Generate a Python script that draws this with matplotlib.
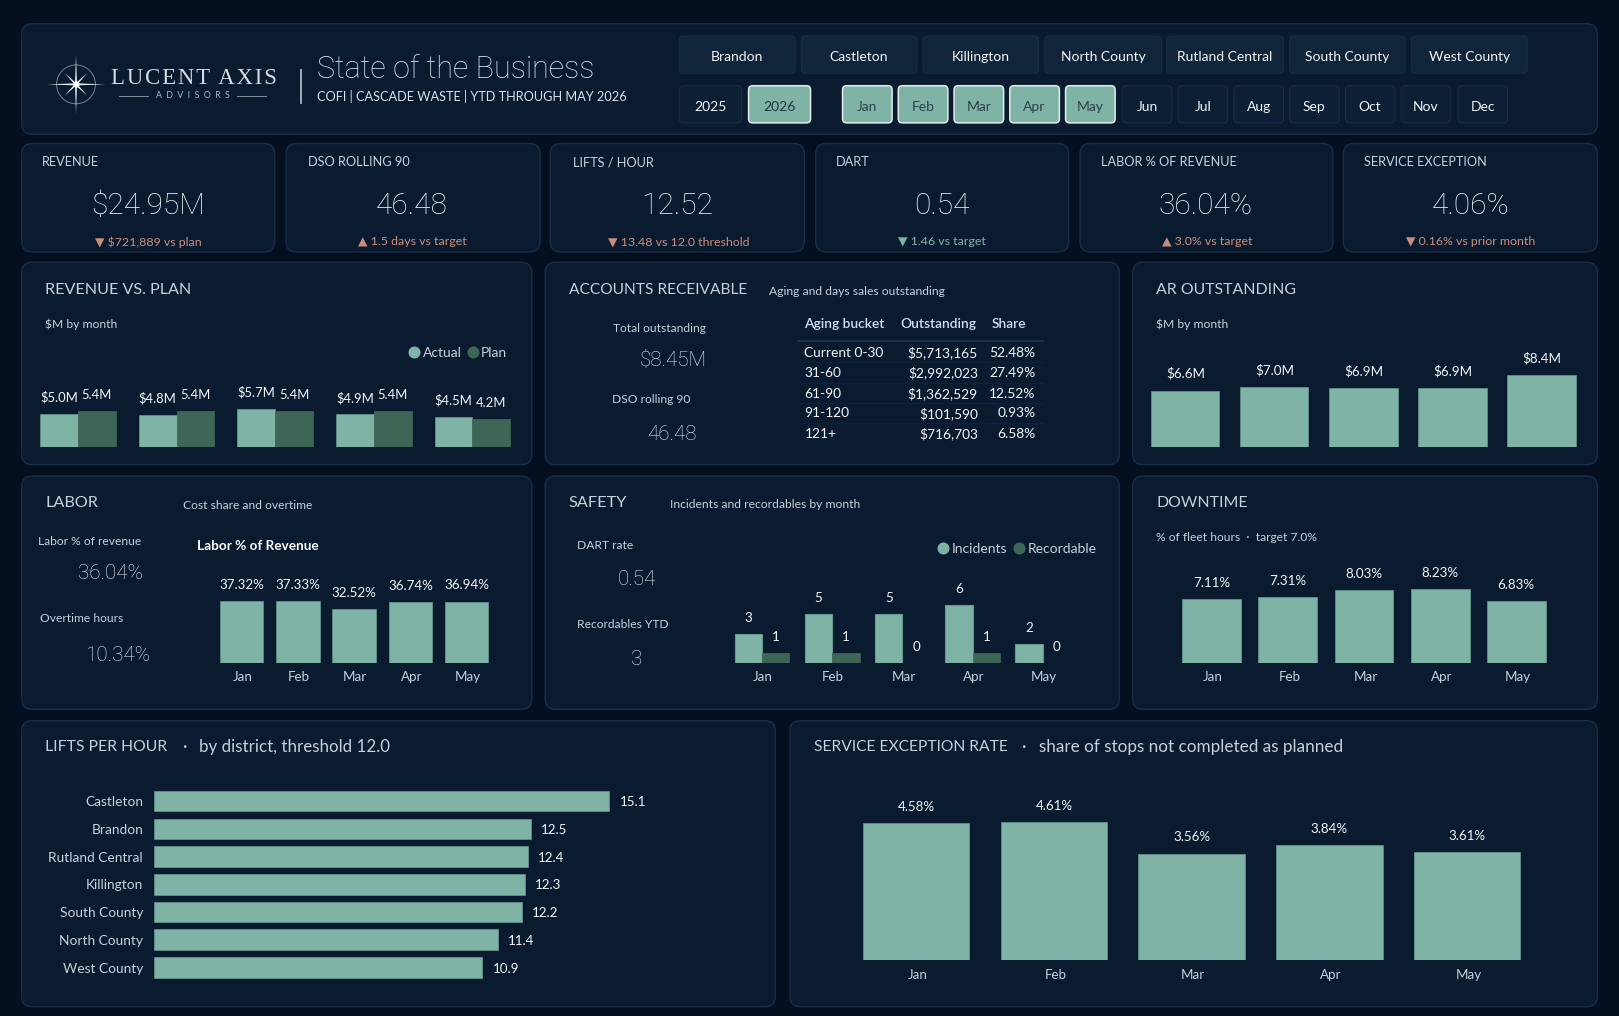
import matplotlib
matplotlib.use("Agg")
import matplotlib.pyplot as plt
from matplotlib.patches import FancyBboxPatch
from matplotlib.transforms import ScaledTranslation

# ---------- data ----------
MONTHS5 = ["Jan", "Feb", "Mar", "Apr", "May"]
ALL_MONTHS = ["Jan", "Feb", "Mar", "Apr", "May", "Jun", "Jul", "Aug", "Sep", "Oct", "Nov", "Dec"]
DISTRICT_BUTTONS = ["Brandon", "Castleton", "Killington", "North County", "Rutland Central", "South County", "West County"]

KPI_LABELS = ["REVENUE", "DSO ROLLING 90", "LIFTS / HOUR", "DART", "LABOR % OF REVENUE", "SERVICE EXCEPTION"]
KPI_VALUES = ["$24.95M", "46.48", "12.52", "0.54", "36.04%", "4.06%"]
KPI_NOTES = ["▼ $721,889 vs plan", "▲ 1.5 days vs target", "▼ 13.48 vs 12.0 threshold",
             "▼ 1.46 vs target", "▲ 3.0% vs target", "▼ 0.16% vs prior month"]

REV_ACTUAL = [5.0, 4.8, 5.7, 4.9, 4.5]
REV_PLAN = [5.4, 5.4, 5.4, 5.4, 4.2]
AR_MONTHLY = [6.6, 7.0, 6.9, 6.9, 8.4]
LABOR_PCT = [37.32, 37.33, 32.52, 36.74, 36.94]
INCIDENTS = [3, 5, 5, 6, 2]
RECORDABLE = [1, 1, 0, 1, 0]
DOWNTIME = [7.11, 7.31, 8.03, 8.23, 6.83]
DISTRICTS = ["Castleton", "Brandon", "Rutland Central", "Killington", "South County", "North County", "West County"]
LIFTS = [15.1, 12.5, 12.4, 12.3, 12.2, 11.4, 10.9]
SERVICE_EXC = [4.58, 4.61, 3.56, 3.84, 3.61]

AGING_BUCKETS = ["Current 0-30", "31-60", "61-90", "91-120", "121+"]
AGING_AMOUNTS = ["$5,713,165", "$2,992,023", "$1,362,529", "$101,590", "$716,703"]
AGING_SHARES = ["52.48%", "27.49%", "12.52%", "0.93%", "6.58%"]

# ---------- style ----------
BG = "#040F20"
PANEL = "#0A1B30"
EDGE = "#1A2D45"
BTN = "#10243A"
BTN_DARK = "#0C1F35"
BAR = "#7FB3A6"
BAR_EDGE = "#649A8C"
BAR2 = "#3D6656"
TXT = "#D8E0E8"
TXT2 = "#C6D0DA"
VAL2 = "#E2E8EE"
WHITE = "#F2F5F7"
SALMON = "#C98D7C"
FAM = ["Lato", "DejaVu Sans"]
LIGHT = ["Roboto", "DejaVu Sans"]
W, H = 1568.0, 984.0
S = 1619.0 / 1568.0


def P(px):
    return px * S * 0.72


fig = plt.figure(figsize=(16.19, 10.16), dpi=100, facecolor=BG)
ov = fig.add_axes([0, 0, 1, 1], zorder=0)
ov.set_xlim(0, W)
ov.set_ylim(H, 0)
ov.axis("off")


def panel(x0, y0, x1, y1, r=10, fc=PANEL, ec=EDGE, lw=1.0):
    ov.add_patch(FancyBboxPatch((x0, y0), x1 - x0, y1 - y0, boxstyle=f"round,pad=0,rounding_size={r}",
                                fc=fc, ec=ec, lw=lw))


def T(x, y, s, px=13, c=TXT2, ha="left", w="normal", fam=None):
    return ov.text(x, y + 0.07 * px, s, fontsize=P(px), color=c, ha=ha, va="center",
                   fontweight=w, family=fam or FAM)


def BIG(x, y, s, px, c=WHITE, ha="center"):
    return T(x, y, s, px=px, c=c, ha=ha, w="light", fam=LIGHT)


def inset(x0, x1, ytop, ybot, xlim, ylim):
    ax = fig.add_axes([x0 / W, 1 - ybot / H, (x1 - x0) / W, (ybot - ytop) / H], zorder=2)
    ax.set_facecolor("none")
    ax.set_xlim(*xlim)
    ax.set_ylim(*ylim)
    for sp in ax.spines.values():
        sp.set_visible(False)
    ax.tick_params(length=0)
    ax.set_yticks([])
    ax.set_xticks([])
    return ax


def month_ticks(ax, pad, dx=1.0):
    ax.set_xticks(range(5))
    ax.set_xticklabels(MONTHS5, fontsize=P(13), color=TXT2, family=FAM)
    ax.tick_params(axis="x", pad=pad, length=0)
    shift = ScaledTranslation(dx * S / 100.0, 0, fig.dpi_scale_trans)
    for t in ax.get_xticklabels():
        t.set_transform(t.get_transform() + shift)


def lab(ax, x, y, s, off, px=13, c=WHITE):
    ax.annotate(s, (x, y), xytext=(0, off * S * 0.72), textcoords="offset points", ha="center", va="center",
                fontsize=P(px), color=c, family=FAM, annotation_clip=False)


def spike(cx, cy, dx, dy, half, color="#EEF1F4"):
    nx, ny = -dy, dx
    n = (nx * nx + ny * ny) ** 0.5
    nx, ny = nx / n * half, ny / n * half
    ov.fill([cx - dx, cx + nx, cx + dx, cx - nx], [cy - dy, cy + ny, cy + dy, cy - ny], color=color, lw=0)


# ---------- panels ----------
panel(21, 23, 1547, 130)
KPI_X = [(21, 266), (277, 523), (533, 779), (790, 1035), (1046, 1291), (1301, 1547)]
for a, b in KPI_X:
    panel(a, 139, b, 244)
for a, b in [(21, 515), (528, 1084), (1097, 1547)]:
    panel(a, 254, b, 450)
    panel(a, 461, b, 687)
panel(21, 698, 751, 975)
panel(765, 698, 1547, 975)

# ---------- logo ----------
cx, cy = 73.6, 81.7
ov.add_patch(plt.Circle((cx, cy), 18.8, fc="none", ec="#77828F", lw=0.7))
ov.fill([cx - 28.5, cx, cx + 28.5, cx], [cy, cy - 1.0, cy, cy + 1.0], color="#E8ECEF", lw=0)
ov.fill([cx, cx + 1.0, cx, cx - 1.0], [cy - 28.5, cy, cy + 28.5, cy], color="#E8ECEF", lw=0)
for dx, dy in [(11, 11), (11, -11)]:
    spike(cx, cy, dx, dy, 1.0)
ov.scatter([cx], [cy], s=20, color="white", zorder=3, linewidths=0)
T(107.5, 74.5, "L\u200aU\u200aC\u200aE\u200aN\u200aT\u200a\u200a A\u200aX\u200aI\u200aS", px=22, c="#D5DBE1",
  fam=["Liberation Serif", "DejaVu Sans"])
T(187, 92, "A  D  V  I  S  O  R  S", px=8.5, c="#AEB7C0", ha="center")
ov.plot([115.5, 143.5], [92.5, 92.5], color="#7F8B98", lw=0.7)
ov.plot([229.5, 257.5], [92.5, 92.5], color="#7F8B98", lw=0.7)
ov.plot([292, 292], [68, 100], color="#AEB8C2", lw=1.3)

BIG(307, 65, "State of the Business", 29.6, c=TXT, ha="left")
T(307, 92.5, "COFI | CASCADE WASTE | YTD THROUGH MAY 2026", px=12.3, c=TXT)

# ---------- slicers ----------
DIST_X = [(658, 770), (776, 888), (894, 1006), (1012, 1125), (1130, 1243), (1249, 1361), (1367, 1479)]
for (a, b), s in zip(DIST_X, DISTRICT_BUTTONS):
    panel(a, 35, b, 71, r=4, fc=BTN, ec="#182C43", lw=0.8)
    T((a + b) / 2, 54, s, px=13.5, c=WHITE, ha="center")
for (a, b), s, on in [((658, 718), "2025", False), ((725, 785), "2026", True)]:
    panel(a, 83, b, 119, r=4, fc=BAR if on else BTN_DARK, ec="#E4ECEA" if on else "#182C43", lw=1.1 if on else 0.8)
    T((a + b) / 2, 102.5, s, px=13.5, c="#20323F" if on else WHITE, ha="center")
MONTH_X = [(816, 864), (870, 918), (924, 972), (978, 1026), (1032, 1080), (1087, 1135), (1141, 1189),
           (1195, 1243), (1249, 1297), (1303, 1351), (1357, 1405), (1412, 1460)]
for i, ((a, b), s) in enumerate(zip(MONTH_X, ALL_MONTHS)):
    on = i < 5
    panel(a, 83, b, 119, r=4, fc=BAR if on else BTN_DARK, ec="#E4ECEA" if on else "#182C43", lw=1.1 if on else 0.8)
    T((a + b) / 2, 102.5, s, px=13.5, c="#2B4048" if on else WHITE, ha="center")

# ---------- KPI cards ----------
KPI_LX = [41, 298, 555, 810, 1066, 1321]
KPI_CX = [144, 399, 656, 912, 1168, 1424]
KPI_NX = [144, 399, 657, 912, 1169, 1424]
for i in range(6):
    T(KPI_LX[i], 156.5, KPI_LABELS[i], px=12.4, c=TXT2)
    BIG(KPI_CX[i], 197, KPI_VALUES[i], 29)
    T(KPI_NX[i], 233.5, KPI_NOTES[i], px=12, c=BAR if i == 3 else SALMON, ha="center")

# ---------- revenue vs plan ----------
T(44, 279.5, "REVENUE VS. PLAN", px=15.6, c=TXT2)
T(44, 313.5, "$M by month", px=11.7)
ov.scatter([401], [341], s=75, color=BAR, linewidths=0)
T(410, 340.5, "Actual", px=13.5)
ov.scatter([458], [341], s=75, color=BAR2, linewidths=0)
T(466, 340.5, "Plan", px=13.5)
ax = inset(27.75, 505.25, 368.5, 433, (-0.5, 4.5), (0, 10))
bw = 36.6 / 95.5
ax.bar([i - bw / 2 for i in range(5)], REV_ACTUAL, bw, color=BAR, edgecolor=BAR_EDGE, lw=0.5)
ax.bar([i + bw / 2 for i in range(5)], REV_PLAN, bw, color=BAR2, edgecolor=BAR2, lw=0.5)
for i in range(5):
    lab(ax, i - bw / 2, REV_ACTUAL[i], f"${REV_ACTUAL[i]:.1f}M", 16, px=12.6)
    lab(ax, i + bw / 2, REV_PLAN[i], f"{REV_PLAN[i]:.1f}M", 16, px=12.6)

# ---------- accounts receivable ----------
T(551, 279.5, "ACCOUNTS RECEIVABLE", px=15, c=TXT2)
T(745, 281.5, "Aging and days sales outstanding", px=11.8)
T(594, 317.5, "Total outstanding", px=11.6)
BIG(652, 348, "$8.45M", 19.8, c=VAL2)
T(593, 386.5, "DSO rolling 90", px=11.6)
BIG(651, 419, "46.48", 19.8, c=VAL2)
T(779, 312.5, "Aging bucket", px=13.3, c="#CFE0F2", w="semibold")
T(872, 312.5, "Outstanding", px=13.3, c="#CFE0F2", w="semibold")
T(960, 312.5, "Share", px=13.3, c="#CFE0F2", w="semibold")
ov.plot([773, 1010], [330.5, 330.5], color="#1C3048", lw=1.5)
ROW_Y = [341, 361, 381, 400, 420]
for y in [351, 371, 390.5, 410]:
    ov.plot([773, 1010], [y, y], color="#0F2239", lw=0.9)
for y, b, a, s in zip(ROW_Y, AGING_BUCKETS, AGING_AMOUNTS, AGING_SHARES):
    T(779, y - 0.5, b, px=13.3, c=WHITE)
    T(947, y - 0.5, a, px=13.3, c=WHITE, ha="right")
    T(1003, y - 0.5, s, px=13.3, c=WHITE, ha="right")

# ---------- AR outstanding ----------
T(1120, 279.5, "AR OUTSTANDING", px=15.4, c=TXT2)
T(1120, 313.5, "$M by month", px=11.7)
ax = inset(1105, 1536, 350, 433, (-0.5, 4.5), (0, 10))
ax.bar(range(5), AR_MONTHLY, 66 / 86.25, color=BAR, edgecolor=BAR_EDGE, lw=0.5)
for i, v in enumerate(AR_MONTHLY):
    lab(ax, i, v, f"${v:.1f}M", 16.5)

# ---------- labor ----------
T(44, 486.5, "LABOR", px=15.7, c=TXT2)
T(177, 488.5, "Cost share and overtime", px=11.6)
T(37, 523.5, "Labor % of revenue", px=11.6)
BIG(107, 554, "36.04%", 20, c=VAL2)
T(39, 598.5, "Overtime hours", px=11.6)
BIG(114, 633, "10.34%", 20, c=VAL2)
T(191, 527.5, "Labor % of Revenue", px=13.2, c="white", w="bold")
ax = inset(206.75, 479.25, 579.5, 642, (-0.5, 4.5), (0, 39))
ax.bar(range(5), LABOR_PCT, 42 / 54.5, color=BAR, edgecolor=BAR_EDGE, lw=0.5)
month_ticks(ax, 6, dx=1.0)
for i, v in enumerate(LABOR_PCT):
    lab(ax, i, v, f"{v:.2f}%", 16)

# ---------- safety ----------
T(551, 486.5, "SAFETY", px=15.7, c=TXT2)
T(649, 487.5, "Incidents and recordables by month", px=11.7)
T(559, 527.5, "DART rate", px=11.6)
BIG(617, 560, "0.54", 20, c=VAL2)
T(559, 604.5, "Recordables YTD", px=11.6)
BIG(617, 637, "3", 20, c=VAL2)
ov.scatter([913], [531], s=75, color=BAR, linewidths=0)
T(922, 530.5, "Incidents", px=13.5)
ov.scatter([987], [531], s=75, color=BAR2, linewidths=0)
T(995, 530.5, "Recordable", px=13.5)
ax = inset(704, 1044, 567, 642, (-0.5, 4.5), (0, 8))
bw = 26.6 / 68
ax.bar([i - bw / 2 for i in range(5)], INCIDENTS, bw, color=BAR, edgecolor=BAR_EDGE, lw=0.8)
ax.bar([i + bw / 2 for i in range(5)], RECORDABLE, bw, color=BAR2, edgecolor=BAR2, lw=0.5)
month_ticks(ax, 6, dx=1.0)
for i in range(5):
    lab(ax, i - bw / 2, INCIDENTS[i], str(INCIDENTS[i]), 15.5)
    lab(ax, i + bw / 2, RECORDABLE[i], str(RECORDABLE[i]), 15.5)

# ---------- downtime ----------
T(1120, 486.5, "DOWNTIME", px=15.4, c=TXT2)
T(1120, 519.5, "% of fleet hours  ·  target 7.0%", px=11.6)
ax = inset(1136.6, 1505.4, 554.5, 642, (-0.5, 4.5), (0, 10))
ax.bar(range(5), DOWNTIME, 57 / 73.75, color=BAR, edgecolor=BAR_EDGE, lw=0.5)
month_ticks(ax, 5.5, dx=1.5)
for i, v in enumerate(DOWNTIME):
    lab(ax, i, v, f"{v:.2f}%", 15.5)

# ---------- lifts per hour ----------
T(44, 722.5, "LIFTS PER HOUR", px=15.3, c=TXT2)
T(177, 722.5, "·", px=16.5, c=TXT2)
T(193, 722.5, "by district, threshold 12.0", px=16.4, c=TXT2)
ax = inset(149, 733, 762.5, 950.5, (0, 20), (6.5, -0.5))
ax.barh(range(7), LIFTS, 20 / 26.85, color=BAR, edgecolor=BAR_EDGE, lw=0.5)
ax.set_yticks(range(7))
ax.set_yticklabels(DISTRICTS, fontsize=P(13.3), color=TXT2, family=FAM)
ax.tick_params(axis="y", pad=10.5 * S * 0.72, length=0)
for i, v in enumerate(LIFTS):
    ax.annotate(f"{v:.1f}", (v, i), xytext=(10 * S * 0.72, -0.7), textcoords="offset points", ha="left", va="center",
                fontsize=P(13), color=WHITE, family=FAM)

# ---------- service exception ----------
T(788, 722.5, "SERVICE EXCEPTION RATE", px=15.1, c=TXT2)
T(990, 722.5, "·", px=16.5, c=TXT2)
T(1006, 722.5, "share of stops not completed as planned", px=16.6, c=TXT2)
ax = inset(820.75, 1487.5, 770, 930, (-0.5, 4.5), (0, 160 / 29.0))
ax.bar(range(5), SERVICE_EXC, 103 / 133.35, color=BAR, edgecolor=BAR_EDGE, lw=0.5)
month_ticks(ax, 6, dx=1.5)
for i, v in enumerate(SERVICE_EXC):
    lab(ax, i, v, f"{v:.2f}%", 16)

fig.savefig("out.png", dpi=100, facecolor=BG)
